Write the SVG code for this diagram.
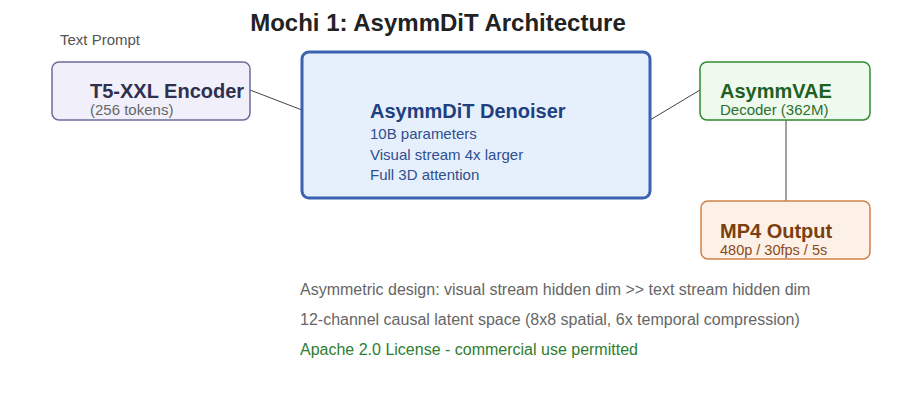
<svg xmlns="http://www.w3.org/2000/svg" width="900" height="400" viewBox="0 0 900 400">
<style>
text{font-family:"Liberation Sans",Arial,sans-serif}
.h{font-weight:bold;font-size:20px}
.s{font-size:16px}
.m{font-size:15px}
.c{stroke:#444;stroke-width:1;fill:none}
</style>
<rect width="900" height="400" fill="#fff"/>
<text x="438" y="31" text-anchor="middle" font-weight="bold" font-size="24" fill="#222">Mochi 1: AsymmDiT Architecture</text>
<text class="m" x="60" y="45" fill="#555">Text Prompt</text>
<g id="connectors">
<line class="c" x1="250" y1="90" x2="302" y2="110"/>
<line class="c" x1="650" y1="120" x2="700" y2="90"/>
<line class="c" x1="786" y1="120" x2="786" y2="201"/>
</g>
<g id="t5">
<rect x="52" y="62" width="198" height="58" rx="7" fill="#f1f0fa" stroke="#6c6c9c" stroke-width="1.5"/>
<text class="h" x="90" y="98" fill="#2f2f4f">T5-XXL Encoder</text>
<text class="m" x="90" y="115" fill="#666">(256 tokens)</text>
</g>
<g id="dit">
<rect x="302" y="52" width="348" height="146" rx="7" fill="#e6effc" stroke="#3a62b0" stroke-width="3"/>
<text class="h" x="370" y="118" fill="#1f3f7f">AsymmDiT Denoiser</text>
<text class="m" x="370" y="139" fill="#2f4f8f">10B parameters</text>
<text class="m" x="370" y="160" fill="#2f4f8f">Visual stream 4x larger</text>
<text class="m" x="370" y="180" fill="#2f4f8f">Full 3D attention</text>
</g>
<g id="vae">
<rect x="700" y="62" width="170" height="58" rx="7" fill="#eefaee" stroke="#2e8b2e" stroke-width="1.5"/>
<text class="h" x="720" y="98" fill="#1f5f1f">AsymmVAE</text>
<text class="m" x="720" y="115" fill="#2e6e2e">Decoder (362M)</text>
</g>
<g id="mp4">
<rect x="701" y="201" width="169" height="58" rx="7" fill="#fdf1e7" stroke="#d0804a" stroke-width="1.5"/>
<text class="h" x="720" y="238" fill="#7a3f10">MP4 Output</text>
<text x="720" y="255" font-size="14.5" fill="#8a4a1a">480p / 30fps / 5s</text>
</g>
<text class="s" x="300" y="295" fill="#666">Asymmetric design: visual stream hidden dim &gt;&gt; text stream hidden dim</text>
<text class="s" x="300" y="325" fill="#666">12-channel causal latent space (8x8 spatial, 6x temporal compression)</text>
<text class="s" x="300" y="355" fill="#2e7d32">Apache 2.0 License - commercial use permitted</text>
</svg>
